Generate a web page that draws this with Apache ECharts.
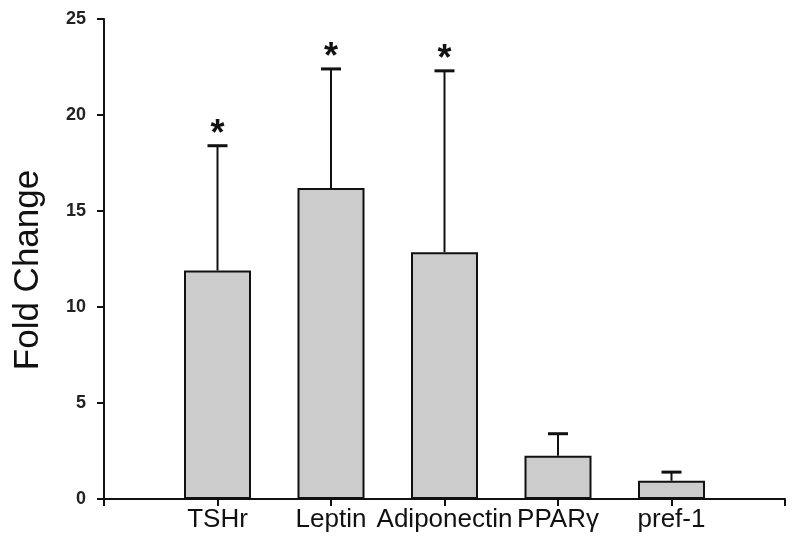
<!DOCTYPE html>
<html><head><meta charset="utf-8">
<script src="https://cdn.jsdelivr.net/npm/echarts@6/dist/echarts.min.js"></script>
<style>html,body{margin:0;padding:0;background:#fff}#c{width:800px;height:552px}</style>
</head><body><div id="c"></div>
<script>
const categories = ['', 'TSHr', 'Leptin', 'Adiponectin', 'PPARγ', 'pref-1', ''];
const means = [null, 11.9, 16.2, 12.85, 2.25, 0.95, null];
const errTop = [null, 18.4, 22.4, 22.3, 3.4, 1.4, null];
const signif = [false, true, true, true, false, false, false];
const yTicks = [0, 5, 10, 15, 20, 25];
const yTitle = 'Fold Change';

const chart = echarts.init(document.getElementById('c'));
const errData = [];
for (let i = 0; i < categories.length; i++) {
  if (means[i] != null) errData.push([i, means[i], errTop[i], signif[i] ? 1 : 0]);
}
chart.setOption({
  animation: false,
  grid: { left: 104, right: 15, top: 19, bottom: 53 },
  graphic: [{
    type: 'text', x: 28, y: 270, rotation: Math.PI / 2,
    style: { text: yTitle, fontSize: 35, fill: '#111', fontFamily: 'Liberation Sans', align: 'center', verticalAlign: 'middle' }
  }],
  xAxis: {
    type: 'category', data: categories, boundaryGap: false,
    axisLine: { lineStyle: { color: '#111', width: 2 } },
    axisTick: { show: true, length: 7, lineStyle: { color: '#111', width: 2 }, interval: 0 },
    axisLabel: { interval: 0, color: '#111', fontSize: 26, fontFamily: 'Liberation Sans', margin: 8 }
  },
  yAxis: {
    type: 'value', min: yTicks[0], max: yTicks[yTicks.length - 1], interval: 5,
    splitLine: { show: false },
    axisLine: { show: true, lineStyle: { color: '#111', width: 2 } },
    axisTick: { show: true, length: 7, lineStyle: { color: '#111', width: 2 } },
    axisLabel: { color: '#222', fontSize: 18, fontWeight: 'bold', fontFamily: 'Liberation Sans', margin: 18 }
  },
  series: [
    {
      type: 'bar', data: means, barWidth: 67,
      itemStyle: { color: '#cccccc', borderColor: '#111', borderWidth: 2 }
    },
    {
      type: 'custom', data: errData, z: 1,
      renderItem: function (params, api) {
        const x = api.value(0);
        const top = api.coord([x, api.value(2)]);
        const base = api.coord([x, api.value(1)]);
        const children = [
          { type: 'line', shape: { x1: top[0], y1: base[1], x2: top[0], y2: top[1] }, style: { stroke: '#111', lineWidth: 2 } },
          { type: 'line', shape: { x1: top[0] - 10, y1: top[1], x2: top[0] + 10, y2: top[1] }, style: { stroke: '#111', lineWidth: 3 } }
        ];
        if (api.value(3) === 1) {
          children.push({ type: 'text', style: { text: '*', x: top[0], y: top[1] + 7, align: 'center', verticalAlign: 'bottom', fontSize: 36, fontWeight: 'bold', fontFamily: 'Liberation Sans', fill: '#111' } });
        }
        return { type: 'group', children: children };
      }
    }
  ]
});
</script></body></html>
